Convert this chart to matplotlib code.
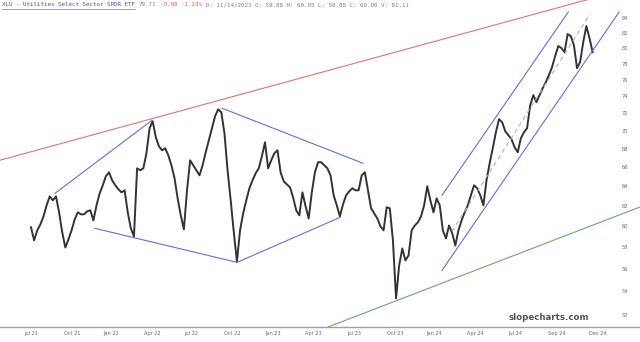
import matplotlib
matplotlib.use("Agg")
import matplotlib.pyplot as plt
from matplotlib.lines import Line2D
from matplotlib.ticker import FixedLocator, FixedFormatter, NullLocator


# weekly closes (dividend-adjusted, Jul 2021 -> Nov 2024)
closes = [
    59.90, 58.65, 59.61, 60.18, 60.97, 62.07, 62.97, 62.57, 62.97, 61.37,
    59.42, 57.98, 58.74, 59.61, 60.67, 61.37, 61.17, 61.17, 61.47, 61.57,
    60.57, 62.07, 63.28, 64.11, 65.05, 65.47, 64.63, 64.11, 63.70, 63.38,
    63.59, 61.37, 59.80, 59.03, 65.89, 65.68, 65.89, 67.51, 70.30, 71.10,
    69.28, 68.28, 67.84, 68.06, 67.30, 66.22, 64.84, 62.77, 61.07, 59.70,
    63.59, 66.75, 66.22, 65.68, 65.15, 66.22, 67.62, 68.95, 70.30, 71.68,
    72.49, 72.14, 69.73, 65.68, 62.57, 59.42, 56.69, 59.61, 61.27, 62.57,
    63.80, 64.63, 65.36, 65.89, 67.19, 68.72, 65.89, 66.75, 67.51, 67.84,
    65.47, 64.52, 64.21, 63.90, 62.87, 61.57, 61.07, 63.38, 61.97, 60.77,
    63.38, 65.47, 66.54, 66.54, 66.22, 65.89, 65.15, 63.08, 62.07, 60.97,
    62.17, 63.08, 63.49, 63.80, 63.59, 63.59, 65.15, 65.47, 63.59, 61.77,
    61.27, 60.77, 59.99, 59.61, 61.87, 61.77, 58.65, 53.40, 56.33, 57.89,
    56.78, 57.24, 59.61, 60.08, 60.38, 60.97, 62.07, 64.00, 62.57, 61.37,
    62.77, 62.07, 59.61, 58.84, 60.08, 59.32, 58.17, 59.61, 60.57, 61.37,
    62.07, 63.08, 64.11, 63.80, 63.08, 62.07, 64.63, 66.43, 68.06, 69.84,
    71.33, 70.99, 69.96, 69.51, 69.06, 68.17, 67.62, 69.17, 69.84, 70.30,
    72.96, 74.16, 73.32, 74.16, 75.00, 75.73, 76.60, 77.60, 78.99, 80.28,
    80.02, 79.50, 81.85, 81.58, 80.41, 77.47, 78.23, 80.80, 82.92, 81.32,
    79.50,
]
weeks = list(range(len(closes)))

x_tick_pos = [0, 13.1, 25.6, 38.8, 51.3, 64.4, 77.6, 90.4, 103.5, 116.7,
              129.2, 142.3, 155.1, 168.6, 181.7]
x_tick_labels = ["Jul 21", "Oct 21", "Jan 22", "Apr 22", "Jul 22", "Oct 22",
                 "Jan 23", "Apr 23", "Jul 23", "Oct 23", "Jan 24", "Apr 24",
                 "Jul 24", "Sep 24", "Dec 24"]
y_ticks = [52, 54, 56, 58, 60, 62, 64, 66, 68, 70, 72, 74, 76, 78, 80, 82, 84]

# drawn trendlines: (week, price) endpoints
red_weeks, red_prices = [-9.9, 195.2], [66.76, 88.56]
diamond_ul_weeks, diamond_ul_prices = [7.69, 38.78], [63.28, 71.21]
diamond_ur_weeks, diamond_ur_prices = [61.22, 106.41], [72.61, 66.43]
diamond_ll_weeks, diamond_ll_prices = [20.51, 66.03], [59.80, 56.60]
diamond_lr_weeks, diamond_lr_prices = [66.03, 99.04], [56.60, 60.87]
chan_up_weeks, chan_up_prices = [131.73, 172.2], [63.08, 84.82]
chan_lo_weeks, chan_lo_prices = [131.73, 188.5], [55.87, 84.82]
chan_mid_weeks, chan_mid_prices = [134.94, 179.17], [59.51, 84.54]
green_weeks, green_prices = [95.19, 195.19], [50.99, 61.90]

fig = plt.figure(figsize=(6.4, 3.42), dpi=100)
ax = fig.add_axes([0, 15 / 342, 1, 327 / 342])

ax.plot(weeks, closes, color="#303530", linewidth=1.4)

blue = "#6a6ae0"
ax.plot(red_weeks, red_prices, color="#e87070", linewidth=0.8)
for wx, py in [(diamond_ul_weeks, diamond_ul_prices), (diamond_ur_weeks, diamond_ur_prices),
               (diamond_ll_weeks, diamond_ll_prices), (diamond_lr_weeks, diamond_lr_prices),
               (chan_up_weeks, chan_up_prices), (chan_lo_weeks, chan_lo_prices)]:
    ax.plot(wx, py, color=blue, linewidth=0.8)
ax.plot(chan_mid_weeks, chan_mid_prices, color="#b0b0b0", linewidth=0.8, linestyle=(0, (4, 3)))
ax.plot(green_weeks, green_prices, color="#6aaa6a", linewidth=0.8)

ax.set_yscale("log")
ax.set_xlim(-9.94, 195.19)
ax.set_ylim(50.99, 86.48)

ax.yaxis.set_major_locator(FixedLocator(y_ticks))
ax.yaxis.set_major_formatter(FixedFormatter([str(v) for v in y_ticks]))
ax.yaxis.set_minor_locator(NullLocator())
ax.yaxis.tick_right()
ax.tick_params(axis="y", length=0, pad=-13, labelsize=3.6, labelcolor="#666")

ax.set_xticks(x_tick_pos)
ax.set_xticklabels(x_tick_labels)
ax.tick_params(axis="x", length=0, pad=3, labelsize=3.6, labelcolor="#666")

for side in ["top", "left", "right"]:
    ax.spines[side].set_visible(False)
ax.spines["bottom"].set_color("#a0a0a0")
ax.spines["bottom"].set_linewidth(1.0)

# header line: coloured pieces chained one after another
parts = [
    ("XLU - Utilities Select Sector SPDR ETF", "#4b4bb5"),
    ("79.71", "#808080"),
    ("-0.98 -1.23%", "#e06060"),
    ("D: 11/14/2023 O: 59.88 H: 60.05 L: 58.88 C: 60.00 V: 81.11", "#808080"),
]
renderer = fig.canvas.get_renderer()
xpix = 2.0
first_box = None
for txt, col in parts:
    t = fig.text(xpix / 640, 1 - 5 / 342, txt, fontsize=4.2, family="DejaVu Sans Mono",
                 color=col, va="center", ha="left")
    bb = t.get_window_extent(renderer)
    if first_box is None:
        first_box = bb
    xpix = bb.x1 + 4
fig.add_artist(Line2D([first_box.x0 / 640, first_box.x1 / 640], [1 - 8.5 / 342, 1 - 8.5 / 342],
                      transform=fig.transFigure, color="#4b4bb5", linewidth=0.4))

fig.text(549 / 640, 1 - 317 / 342, "slopecharts.com", fontsize=6.2, weight="bold",
         color="#555555", ha="center", va="center")

fig.savefig("out.png", dpi=100)
